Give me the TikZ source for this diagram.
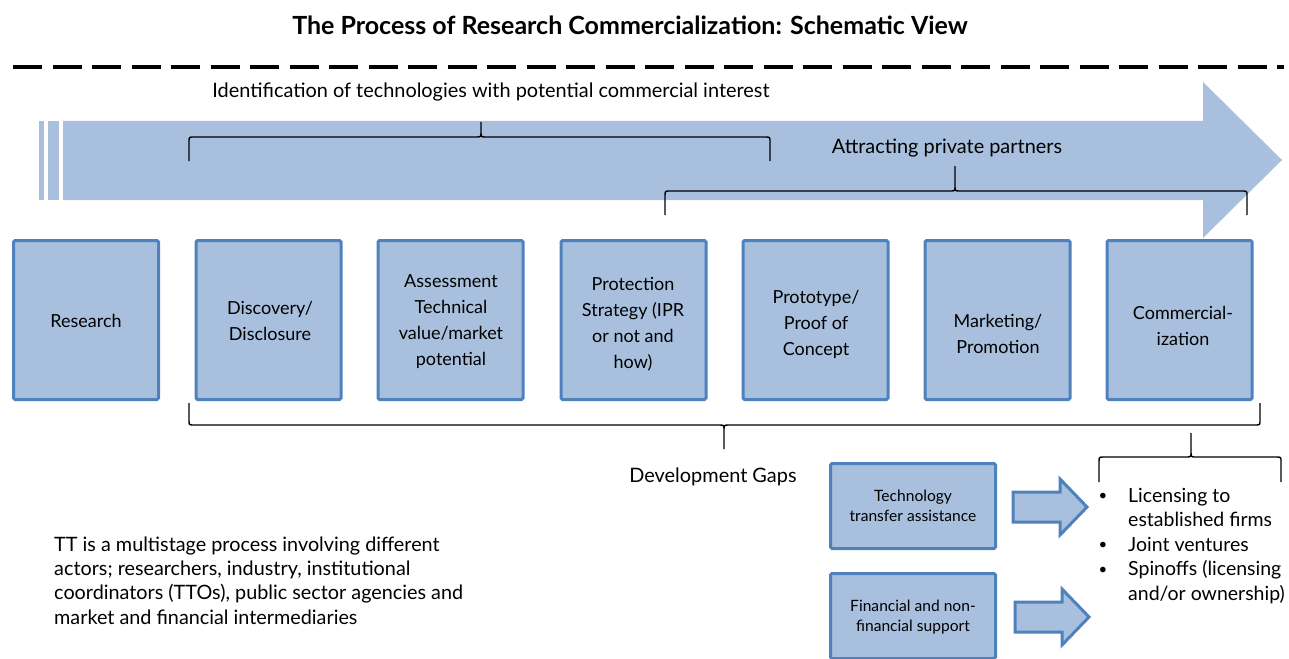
\documentclass[tikz,border=0pt]{standalone}
\usepackage{fontspec}
\setmainfont{Lato}
\definecolor{fillb}{RGB}{168,192,222}
\definecolor{lineb}{RGB}{79,129,189}
\begin{document}
\begin{tikzpicture}[x=1pt,y=-1pt,
  stage/.style={draw=lineb, fill=fillb, line width=3pt, rounded corners=1.5pt, minimum width=145pt, minimum height=159pt, inner sep=0pt},
  helpbox/.style={draw=lineb, fill=fillb, line width=3pt, rounded corners=1.5pt, minimum width=165pt, minimum height=85pt, inner sep=0pt},
  stagetext/.style={align=center, inner sep=0pt, font=\fontsize{18}{26}\selectfont},
  smalltext/.style={align=center, inner sep=0pt, font=\fontsize{15.6}{20}\selectfont},
  lbl/.style={inner sep=0pt, font=\fontsize{19.9}{24}\selectfont},
  bracepath/.style={draw=black, line width=1.4pt},
  blockarrow/.style={draw=lineb, fill=fillb, line width=3pt, line join=miter},
  bigarrow/.style={fill=fillb, draw=none}]
\useasboundingbox (0,0) rectangle (1289,658);
\clip (0,0) rectangle (1289,658);

% title and dashed rule
\node[inner sep=0pt, font=\fontsize{25}{29}\selectfont\bfseries] (title) at (630,25) {The Process of Research Commercialization: Schematic View};
\coordinate (ruleL) at (13,67);
\coordinate (ruleR) at (1284,67);
\draw[line width=3.5pt, dash pattern=on 29pt off 10.5pt] (ruleL) -- (ruleR);

% big process arrow
\fill[fillb] (39,121) rectangle (43.5,200);
\fill[fillb] (48.3,121) rectangle (58.7,200);
\path[bigarrow] (63,121) -- (1203,121) -- (1203,82) -- (1282,160) -- (1203,238) -- (1203,200) -- (63,200) -- cycle;

% top labels and braces
\node[lbl] (ident) at (491,92) {Identification of technologies with potential commercial interest};
\node[lbl] (attract) at (947,148) {Attracting private partners};
\path[bracepath] (189,161) -- (189,142) .. controls (189,137) .. (194,137) -- (476,137) .. controls (481,137) .. (481,132) -- (481,122)
  (481,132) .. controls (481,137) .. (486,137) -- (765,137) .. controls (770,137) .. (770,142) -- (770,161);
\path[bracepath] (665,215) -- (665,196) .. controls (665,191) .. (670,191) -- (950,191) .. controls (955,191) .. (955,186) -- (955,166)
  (955,186) .. controls (955,191) .. (960,191) -- (1242,191) .. controls (1247,191) .. (1247,196) -- (1247,215);

% stages
\node[stage] (s1) at (86,320) {};
\node[stage] (s2) at (268.5,320) {};
\node[stage] (s3) at (450.5,320) {};
\node[stage] (s4) at (633.5,320) {};
\node[stage] (s5) at (815.5,320) {};
\node[stage] (s6) at (997.5,320) {};
\node[stage] (s7) at (1179.5,320) {};
\node[stagetext] (t1) at (86,321) {Research};
\node[stagetext] (t2) at (270,321) {Discovery/\\Disclosure};
\node[stagetext] (t3) at (451,322) {Assessment\\Technical\\value/market\\potential};
\node[stagetext] (t4) at (633,324.5) {Protection\\Strategy (IPR\\or not and\\how)};
\node[stagetext] (t5) at (816,324.5) {Prototype/\\Proof of\\Concept};
\node[stagetext] (t6) at (998,334) {Marketing/\\Promotion};
\node[stagetext] (t7) at (1183,326) {Commercial-\\ization};

% development gaps brace
\path[bracepath] (189,403) -- (189,420) .. controls (189,425) .. (194,425) -- (719,425) .. controls (724,425) .. (724,430) -- (724,449)
  (724,430) .. controls (724,425) .. (729,425) -- (1255,425) .. controls (1260,425) .. (1260,420) -- (1260,403);
\node[lbl] (gaps) at (713,477) {Development Gaps};

% outcome brace
\path[bracepath] (1099,482) -- (1099,462) .. controls (1099,457) .. (1104,457) -- (1186,457) .. controls (1191,457) .. (1191,452) -- (1191,433)
  (1191,452) .. controls (1191,457) .. (1196,457) -- (1276,457) .. controls (1281,457) .. (1281,462) -- (1281,482);

% support boxes
\node[helpbox] (h1) at (913,506) {};
\node[smalltext] (ht1) at (913,506) {Technology\\transfer assistance};
\node[helpbox] (h2) at (913,616) {};
\node[smalltext] (ht2) at (913,617) {Financial and non-\\financial support};

% block arrows
\path[blockarrow] (1013,492) -- (1060,492) -- (1060,479) -- (1087,507) -- (1060,535) -- (1060,522) -- (1013,522) -- cycle;
\path[blockarrow] (1015,602) -- (1062,602) -- (1062,589) -- (1089,617) -- (1062,645) -- (1062,632) -- (1015,632) -- cycle;

% outcomes list
\node[inner sep=0pt, anchor=west, align=left, font=\fontsize{19.5}{24.5}\selectfont] (outc) at (1128,546)
  {Licensing to\\established firms\\Joint ventures\\Spinoffs (licensing\\and/or ownership)};
\node[inner sep=0pt, font=\fontsize{15}{20}\selectfont] (b1) at (1103,497) {•};
\node[inner sep=0pt, font=\fontsize{15}{20}\selectfont] (b2) at (1103,546) {•};
\node[inner sep=0pt, font=\fontsize{15}{20}\selectfont] (b3) at (1103,571) {•};

% note
\node[inner sep=0pt, anchor=west, align=left, font=\fontsize{19.8}{24.3}\selectfont] (note) at (54,580.5)
  {TT is a multistage process involving different\\actors; researchers, industry, institutional\\coordinators (TTOs), public sector agencies and\\market and financial intermediaries};
\end{tikzpicture}
\end{document}
